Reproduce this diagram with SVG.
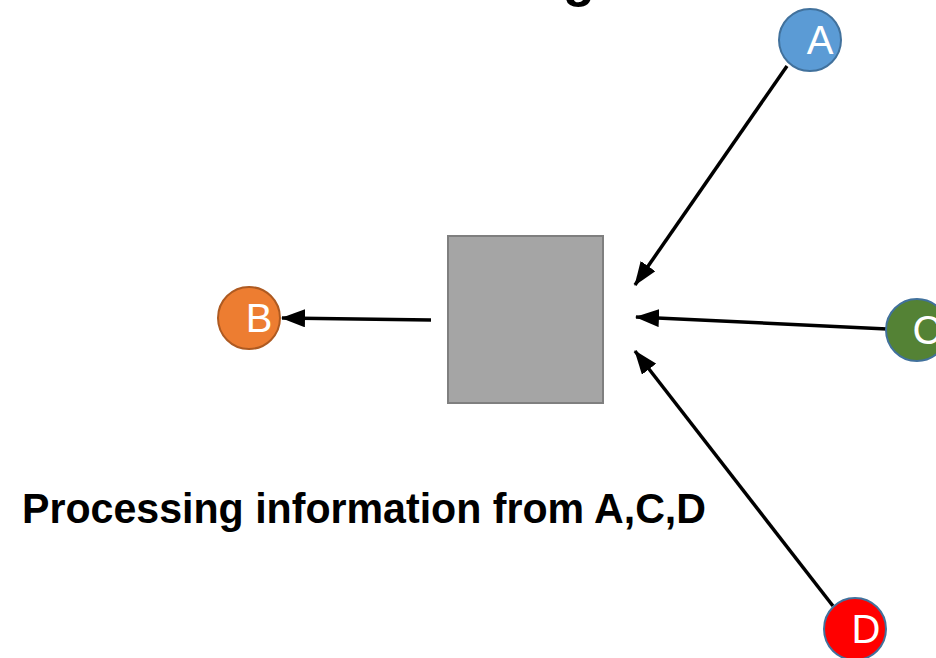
<svg xmlns="http://www.w3.org/2000/svg" width="936" height="658" viewBox="0 0 936 658">
  <defs>
    <style>
      .node circle { stroke-width: 2; }
      .lbl { font-family: "Liberation Sans", Arial, sans-serif; font-size: 40px; fill: #ffffff; text-anchor: middle; }
      .edge { stroke: #000000; stroke-width: 3.5; fill: none; marker-end: url(#arrow); }
      .caption { font-family: "Liberation Sans", Arial, sans-serif; font-weight: bold; fill: #000000; }
    </style>
    <marker id="arrow" markerUnits="userSpaceOnUse" viewBox="0 0 24 18" refX="23" refY="9" markerWidth="24" markerHeight="18" orient="auto">
      <path d="M0,0 L24,9 L0,18 z" fill="#000000"/>
    </marker>
  </defs>
  <rect width="936" height="658" fill="#ffffff"/>

  <text class="caption" x="563" y="-4" font-size="52">g</text>

  <g id="connectors">
    <line class="edge" x1="787" y1="66" x2="635" y2="285"/>
    <line class="edge" x1="431" y1="320" x2="282" y2="318"/>
    <line class="edge" x1="887" y1="329" x2="636" y2="317"/>
    <line class="edge" x1="833" y1="606" x2="635" y2="351"/>
  </g>

  <g id="processor">
    <rect x="448" y="236" width="155" height="167" fill="#a5a5a5" stroke="#7f7f7f" stroke-width="2"/>
  </g>

  <g id="node-A" class="node">
    <circle cx="810" cy="40" r="31" fill="#5b9bd5" stroke="#41719c"/>
    <text class="lbl" x="820" y="54">A</text>
  </g>
  <g id="node-B" class="node">
    <circle cx="249" cy="318" r="31" fill="#ed7d31" stroke="#ae5a21"/>
    <text class="lbl" x="259" y="332">B</text>
  </g>
  <g id="node-C" class="node">
    <circle cx="917" cy="330" r="31" fill="#548235" stroke="#41719c"/>
    <text class="lbl" x="927" y="344">C</text>
  </g>
  <g id="node-D" class="node">
    <circle cx="855" cy="629" r="31" fill="#ff0000" stroke="#41719c"/>
    <text class="lbl" x="866" y="643">D</text>
  </g>

  <g id="caption">
    <text class="caption" x="22" y="523" font-size="42" textLength="684" lengthAdjust="spacingAndGlyphs">Processing information from A,C,D</text>
  </g>
</svg>
